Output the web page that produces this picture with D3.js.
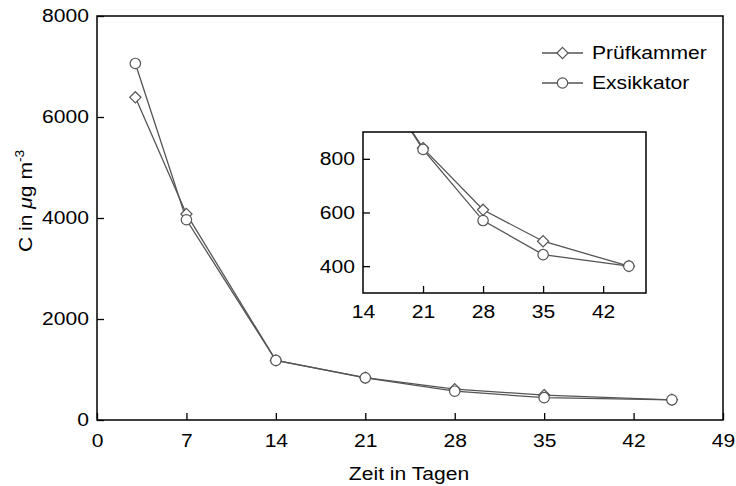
<!DOCTYPE html>
<html>
<head>
<meta charset="utf-8">
<script src="https://cdn.jsdelivr.net/npm/d3@7"></script>
<style>
  body { margin: 0; background: #fff; }
  svg { display: block; font-family: "Liberation Sans", Arial, sans-serif; }
</style>
</head>
<body>
<svg id="chart" width="736" height="486"></svg>
<script>
// days of measurement
var days = [3, 7, 14, 21, 28, 35, 45];
// concentration in ug/m3
var pruefkammer = [6390, 4080, 1180, 840, 610, 493, 400];
var exsikkator = [7060, 3965, 1180, 835, 570, 443, 400];
var seriesNames = ["Prüfkammer", "Exsikkator"];
var xTicks = [0, 7, 14, 21, 28, 35, 42, 49];
var yTicks = [0, 2000, 4000, 6000, 8000];
var insetXTicks = [14, 21, 28, 35, 42];
var insetYTicks = [400, 600, 800];

var svg = d3.select("#chart");
var lineColor = "#555";
var stretch = 1.14; // original font is wider than Arial
var fmt = d3.format("d");

var series = [
    {name: seriesNames[0], shape: "diamond", values: pruefkammer},
    {name: seriesNames[1], shape: "circle", values: exsikkator}
];

function widen(sel) {
    sel.each(function () {
        var t = d3.select(this);
        var x = +t.attr("x") || 0;
        t.attr("x", x / stretch).attr("transform", "scale(" + stretch + ",1)");
    });
}

function styleAxis(a) {
    a.select(".domain").remove();
    a.selectAll("line").attr("stroke", "#000").attr("stroke-width", 1.3);
    a.selectAll("text").attr("font-size", 18.5).attr("fill", "#000").attr("font-family", null);
    widen(a.selectAll("text"));
}

function marker(g, shape, cx, cy) {
    if (shape === "circle") {
        g.append("circle").attr("cx", cx).attr("cy", cy).attr("r", 5.2)
            .attr("fill", "#fff").attr("stroke", lineColor).attr("stroke-width", 1.2);
    } else {
        var s = 5.6;
        g.append("path")
            .attr("d", "M" + cx + "," + (cy - s) + "L" + (cx + s) + "," + cy + "L" + cx + "," + (cy + s) + "L" + (cx - s) + "," + cy + "Z")
            .attr("fill", "#fff").attr("stroke", lineColor).attr("stroke-width", 1.2);
    }
}

function drawSeries(g, x, y) {
    series.forEach(function (s) {
        var pts = days.map(function (d, i) { return [d, s.values[i]]; });
        g.append("path")
            .datum(pts)
            .attr("fill", "none")
            .attr("stroke", lineColor)
            .attr("stroke-width", 1.3)
            .attr("d", d3.line().x(function (p) { return x(p[0]); }).y(function (p) { return y(p[1]); }));
    });
    series.forEach(function (s) {
        days.forEach(function (d, i) { marker(g, s.shape, x(d), y(s.values[i])); });
    });
}

/* main plot */
var x = d3.scaleLinear().domain([0, 49]).range([97, 723]);
var y = d3.scaleLinear().domain([0, 8000]).range([420, 16]);

var xAxis = svg.append("g")
    .attr("transform", "translate(0,420)")
    .call(d3.axisBottom(x).tickValues(xTicks).tickFormat(fmt).tickSizeInner(-7).tickSizeOuter(0).tickPadding(14));
var yAxis = svg.append("g")
    .attr("transform", "translate(97,0)")
    .call(d3.axisLeft(y).tickValues(yTicks).tickFormat(fmt).tickSizeInner(-7).tickSizeOuter(0).tickPadding(8));
styleAxis(xAxis);
styleAxis(yAxis);

svg.append("rect")
    .attr("x", x(0)).attr("y", y(8000))
    .attr("width", x(49) - x(0)).attr("height", y(0) - y(8000))
    .attr("fill", "none").attr("stroke", "#000").attr("stroke-width", 1.5);

drawSeries(svg.append("g"), x, y);

// axis titles
svg.append("g").attr("transform", "translate(409,480)")
    .append("text").attr("text-anchor", "middle").attr("font-size", 18.5)
    .attr("transform", "scale(" + stretch + ",1)")
    .text("Zeit in Tagen");

var yl = svg.append("g").attr("transform", "translate(32,201) rotate(-90) scale(" + stretch + ",1)")
    .append("text").attr("text-anchor", "middle").attr("font-size", 18.5);
yl.append("tspan").text("C in ");
yl.append("tspan").attr("font-style", "italic").text("μ");
yl.append("tspan").text("g m");
yl.append("tspan").attr("font-size", 12).attr("dy", -8).text("-3");

// legend
var legend = svg.append("g");
series.forEach(function (s, i) {
    var ly = 53 + i * 30;
    legend.append("line").attr("x1", 542).attr("x2", 583).attr("y1", ly).attr("y2", ly)
        .attr("stroke", lineColor).attr("stroke-width", 1.3);
    marker(legend, s.shape, 562.5, ly);
    legend.append("g").attr("transform", "translate(592," + ly + ")")
        .append("text").attr("dy", "0.35em").attr("font-size", 18.5)
        .attr("transform", "scale(" + stretch + ",1)")
        .text(s.name);
});

/* inset */
var ix = d3.scaleLinear().domain([14, 47]).range([363, 646]);
var iy = d3.scaleLinear().domain([300, 900]).range([293, 132]);

svg.append("rect")
    .attr("x", 363).attr("y", 132).attr("width", 646 - 363).attr("height", 293 - 132)
    .attr("fill", "#fff");

svg.append("clipPath").attr("id", "insetClip")
    .append("rect").attr("x", 363).attr("y", 132).attr("width", 646 - 363).attr("height", 293 - 132);

var ixAxis = svg.append("g")
    .attr("transform", "translate(0,293)")
    .call(d3.axisBottom(ix).tickValues(insetXTicks).tickFormat(fmt).tickSizeInner(-7).tickSizeOuter(0).tickPadding(12));
var iyAxis = svg.append("g")
    .attr("transform", "translate(363,0)")
    .call(d3.axisLeft(iy).tickValues(insetYTicks).tickFormat(fmt).tickSizeInner(-7).tickSizeOuter(0).tickPadding(8));
styleAxis(ixAxis);
styleAxis(iyAxis);
ixAxis.selectAll(".tick").filter(function (d) { return d === 14; }).select("line").remove();

drawSeries(svg.append("g").attr("clip-path", "url(#insetClip)"), ix, iy);

svg.append("rect")
    .attr("x", 363).attr("y", 132).attr("width", 646 - 363).attr("height", 293 - 132)
    .attr("fill", "none").attr("stroke", "#000").attr("stroke-width", 1.5);
</script>
</body>
</html>
